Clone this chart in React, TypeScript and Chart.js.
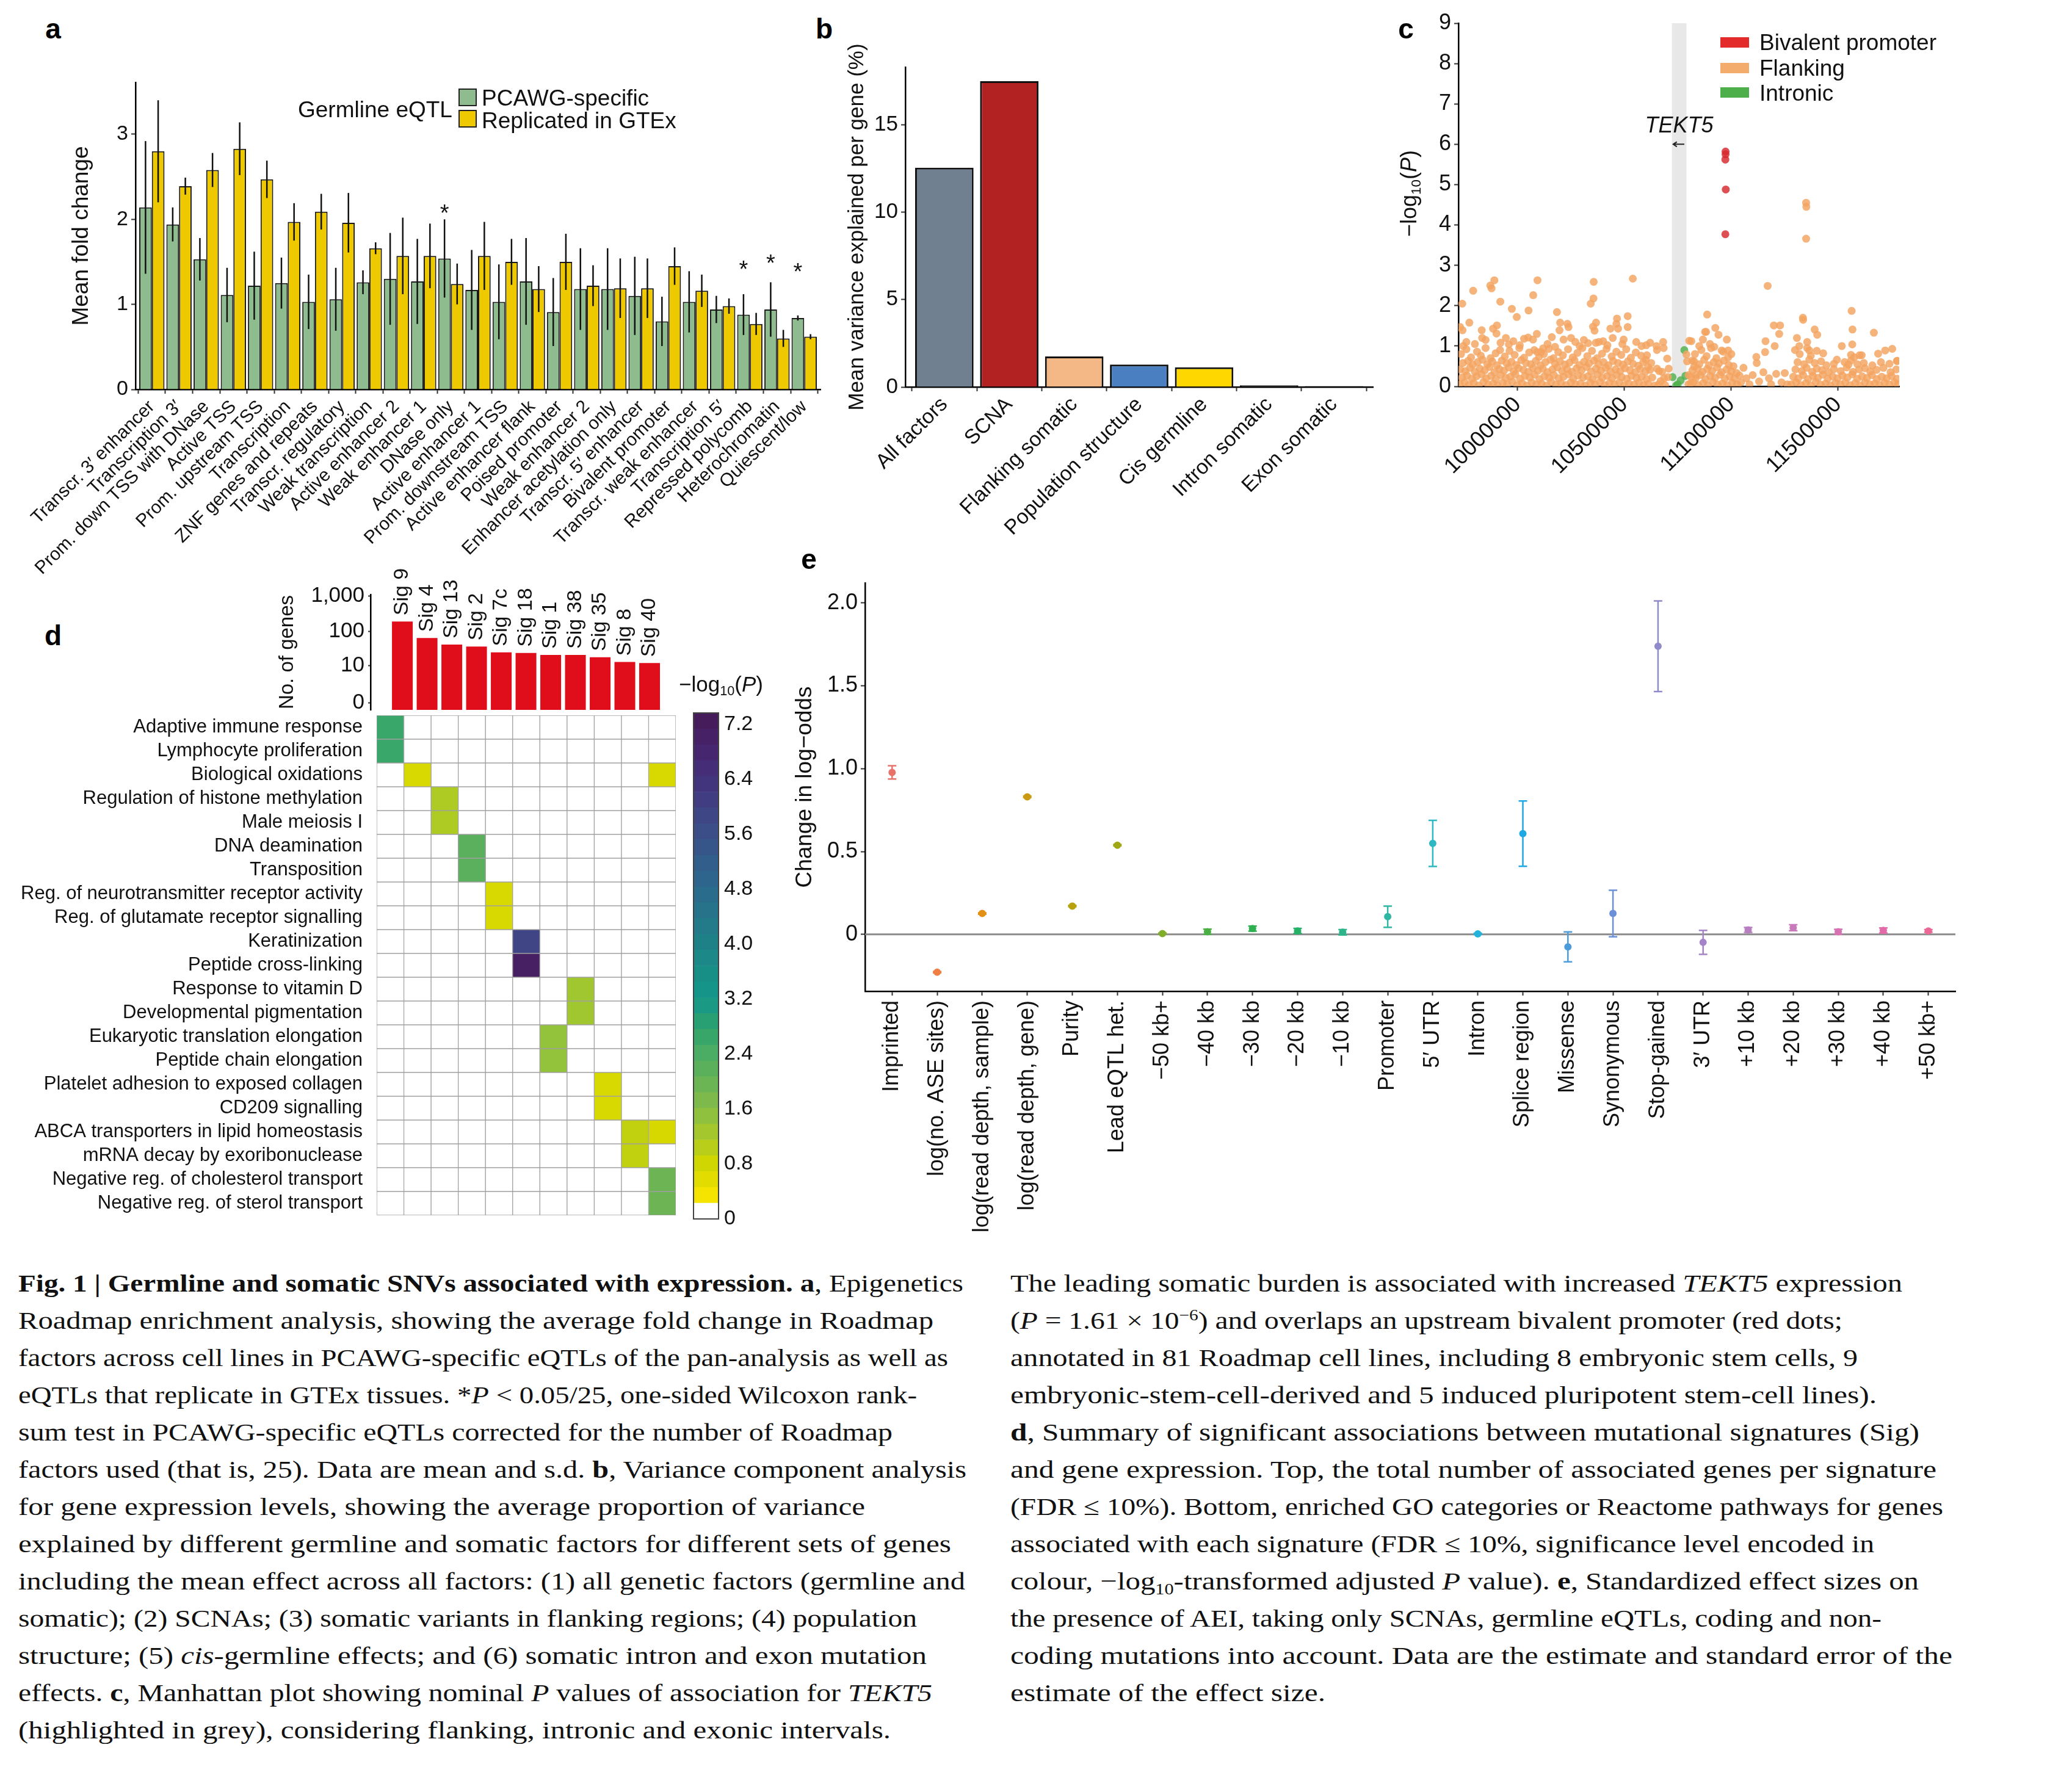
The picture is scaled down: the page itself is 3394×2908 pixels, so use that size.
import React, { useEffect, useLayoutEffect, useRef } from "react";
import { Chart, registerables } from "chart.js";

Chart.register(...registerables);

const SANS = "'Liberation Sans', Arial, Helvetica, sans-serif";
const SERIF = "'Liberation Serif', 'Times New Roman', serif";
const INK = "#111111";

// ---------------- Panel a data ----------------
const A_CATEGORIES = [
  "Transcr. 3\u2032 enhancer", "Transcription 3\u2032", "Prom. down TSS with DNase", "Active TSS",
  "Prom. upstream TSS", "Transcription", "ZNF genes and repeats", "Transcr. regulatory",
  "Weak transcription", "Active enhancer 2", "Weak enhancer 1", "DNase only", "Active enhancer 1",
  "Prom. downstream TSS", "Active enhancer flank", "Poised promoter", "Weak enhancer 2",
  "Enhancer acetylation only", "Transcr. 5\u2032 enhancer", "Bivalent promoter",
  "Transcr. weak enhancer", "Transcription 5\u2032", "Repressed polycomb", "Heterochromatin", "Quiescent/low",
];
const A_PCAWG = [2.14, 1.94, 1.53, 1.11, 1.22, 1.25, 1.03, 1.06, 1.26, 1.3, 1.27, 1.54, 1.17, 1.03, 1.27, 0.91, 1.18, 1.18, 1.1, 0.8, 1.03, 0.94, 0.88, 0.94, 0.84];
const A_PCAWG_SD = [0.78, 0.2, 0.25, 0.32, 0.4, 0.3, 0.32, 0.37, 0.14, 0.54, 0.5, 0.46, 0.47, 0.44, 0.51, 0.4, 0.48, 0.48, 0.46, 0.29, 0.36, 0.16, 0.24, 0.32, 0.03];
const A_GTEX = [2.8, 2.39, 2.58, 2.83, 2.47, 1.97, 2.09, 1.96, 1.66, 1.57, 1.57, 1.24, 1.57, 1.5, 1.18, 1.5, 1.22, 1.19, 1.19, 1.45, 1.16, 0.98, 0.77, 0.6, 0.62];
const A_GTEX_SD = [0.6, 0.1, 0.2, 0.31, 0.22, 0.22, 0.21, 0.35, 0.07, 0.45, 0.38, 0.24, 0.4, 0.27, 0.27, 0.33, 0.24, 0.35, 0.35, 0.22, 0.19, 0.09, 0.13, 0.1, 0.03];
const A_STARS: (number | null)[] = [null, null, null, null, null, null, null, null, null, null, null, 2.14, null, null, null, null, null, null, null, null, null, null, 1.48, 1.55, 1.45];
const A_Y_TICKS = [0, 1, 2, 3];

// ---------------- Panel b data ----------------
const B_CATEGORIES = ["All factors", "SCNA", "Flanking somatic", "Population structure", "Cis germline", "Intron somatic", "Exon somatic"];
const B_VALUES = [12.55, 17.5, 1.75, 1.28, 1.13, 0.1, 0.05];
const B_COLORS = ["#708090", "#B22222", "#F4B886", "#4A7FC1", "#FFD700", "#222222", "#222222"];
const B_Y_TICKS = [0, 5, 10, 15];

// ---------------- Panel c data (position in kb, -log10 P) ----------------
const C_TICK_POS_KB = [10000, 10500, 11000, 11500];
const C_TICK_LABELS = ["10000000", "10500000", "11100000", "11500000"];
const C_TEKT5_KB = [10722, 10790];
const C_BIVALENT: [number, number][] = [[10973, 5.82], [10973, 5.75], [10972, 5.62], [10974, 4.88], [10972, 3.77]];
const C_INTRONIC: [number, number][] = [[10725, 0.23], [10742, 0.02], [10749, 0.05], [10763, 0.15], [10780, 0.9], [10785, 0.26]];
const C_FLANK_LEFT: [number, number][] = [
  [9728, 0.05], [9752, 0.1], [9771, 0.03], [9795, 0.08], [9818, 0.02], [9840, 0.11], [9862, 0.04], [9885, 0.07], [9906, 0.02], [9930, 0.09], [9951, 0.05], [9975, 0.12], [9998, 0.03], [10021, 0.08], [10043, 0.02], [10066, 0.1], [10088, 0.05], [10112, 0.07], [10135, 0.02], [10157, 0.11], [10180, 0.04], [10203, 0.08], [10226, 0.03], [10249, 0.1], [10271, 0.05], [10294, 0.07], [10317, 0.02], [10340, 0.09], [10362, 0.04], [10385, 0.11], [10408, 0.03], [10430, 0.08], [10453, 0.05], [10476, 0.1], [10498, 0.02], [10521, 0.07], [10545, 0.04], [10568, 0.09], [10590, 0.03], [10612, 0.06], [10640, 0.02],
  [9740, 0.22], [9763, 0.27], [9786, 0.19], [9808, 0.25], [9831, 0.3], [9853, 0.2], [9876, 0.26], [9898, 0.18], [9921, 0.28], [9944, 0.21], [9966, 0.24], [9989, 0.3], [10011, 0.19], [10034, 0.26], [10057, 0.22], [10079, 0.29], [10102, 0.18], [10125, 0.25], [10147, 0.21], [10170, 0.28], [10192, 0.2], [10215, 0.24], [10238, 0.3], [10260, 0.19], [10283, 0.27], [10306, 0.22], [10328, 0.25], [10351, 0.18], [10374, 0.29], [10396, 0.21], [10419, 0.26], [10442, 0.2], [10464, 0.28], [10487, 0.23], [10510, 0.19], [10532, 0.26], [10556, 0.21], [10580, 0.24], [10603, 0.18], [10630, 0.22],
  [9731, 0.42], [9755, 0.38], [9777, 0.46], [9800, 0.36], [9823, 0.44], [9846, 0.4], [9868, 0.48], [9891, 0.35], [9914, 0.43], [9936, 0.39], [9959, 0.47], [9982, 0.37], [10004, 0.45], [10027, 0.41], [10050, 0.36], [10072, 0.46], [10095, 0.39], [10118, 0.44], [10140, 0.35], [10163, 0.42], [10186, 0.47], [10208, 0.38], [10231, 0.43], [10254, 0.36], [10276, 0.45], [10299, 0.4], [10322, 0.48], [10344, 0.37], [10367, 0.44], [10390, 0.39], [10412, 0.46], [10435, 0.36], [10458, 0.42], [10480, 0.38], [10503, 0.45], [10526, 0.4], [10550, 0.35], [10574, 0.43], [10598, 0.37], [10620, 0.41],
  [9744, 0.58], [9768, 0.63], [9790, 0.54], [9813, 0.6], [9836, 0.66], [9858, 0.55], [9881, 0.62], [9903, 0.52], [9926, 0.64], [9949, 0.57], [9971, 0.61], [9994, 0.53], [10017, 0.65], [10039, 0.58], [10062, 0.55], [10085, 0.63], [10107, 0.52], [10130, 0.6], [10153, 0.66], [10175, 0.56], [10198, 0.62], [10221, 0.54], [10243, 0.59], [10266, 0.65], [10289, 0.53], [10311, 0.61], [10334, 0.57], [10357, 0.64], [10379, 0.55], [10402, 0.6], [10425, 0.52], [10447, 0.63], [10470, 0.58], [10493, 0.54], [10516, 0.62], [10540, 0.56], [10565, 0.51], [10588, 0.6], [10610, 0.48],
  [9735, 0.8], [9760, 0.92], [9782, 0.72], [9810, 0.86], [9828, 0.76], [9850, 0.95], [9873, 0.7], [9897, 0.82], [9918, 0.9], [9940, 0.74], [9962, 0.88], [9986, 0.78], [10008, 0.95], [10030, 0.71], [10054, 0.84], [10078, 0.9], [10100, 0.73], [10123, 0.8], [10146, 0.93], [10168, 0.7], [10190, 0.85], [10212, 0.77], [10236, 0.92], [10258, 0.72], [10280, 0.83], [10303, 0.95], [10326, 0.75], [10348, 0.88], [10372, 0.7], [10395, 0.81], [10416, 0.93], [10440, 0.74], [10462, 0.86], [10485, 0.78], [10508, 0.92], [10530, 0.71], [10553, 0.84], [10578, 0.76], [10600, 0.66], [10625, 0.58],
  [9760, 1.1], [9800, 1.05], [9850, 1.15], [9920, 1.08], [9945, 1.2], [9980, 1.12], [10010, 1.02], [10030, 1.18], [10140, 1.05], [10160, 1.22], [10175, 0.98], [10270, 1.1], [10290, 1.0], [10310, 1.15], [10330, 1.07], [10400, 1.12], [10420, 1.02], [10445, 1.2], [10490, 1.05], [10555, 1.1], [10580, 1.0],
  [9731, 1.47], [9741, 2.05], [9742, 1.39], [9745, 1.0], [9774, 1.58], [9792, 2.37], [9832, 1.39], [9834, 1.2], [9872, 2.5], [9878, 2.43], [9891, 2.63], [9885, 1.43], [9903, 1.51], [9901, 1.31], [9919, 2.1], [9959, 1.04], [9973, 1.92], [9996, 1.72], [10051, 1.88], [10073, 2.26], [10093, 2.63], [10049, 1.21], [10072, 1.16], [10090, 1.3], [10092, 0.85], [10110, 0.85], [10119, 0.94], [10184, 1.84], [10196, 1.39], [10199, 1.58], [10215, 1.16], [10233, 1.55], [10238, 1.47], [10250, 1.2], [10342, 2.05], [10355, 2.18], [10356, 2.59], [10353, 1.48], [10367, 1.58], [10360, 1.38], [10366, 1.08], [10380, 1.1], [10434, 1.43], [10465, 1.68], [10470, 1.43], [10462, 1.55], [10515, 1.74], [10515, 1.47], [10496, 1.16], [10539, 2.67], [10602, 1.02], [10620, 1.08], [10605, 0.77],
];
const C_FLANK_MID: [number, number][] = [
  [10650, 1.0], [10652, 0.9], [10652, 0.44], [10662, 0.38], [10669, 0.13], [10676, 0.36], [10681, 1.1], [10683, 0.95], [10690, 0.03], [10700, 0.69], [10703, 0.23], [10707, 0.44], [10660, 0.05], [10685, 0.2],
  [10790, 0.79], [10793, 0.62], [10803, 1.13], [10817, 0.64], [10826, 0.49], [10836, 0.28], [10800, 0.28], [10810, 0.08],
  [10800, 0.05], [10822, 0.1], [10845, 0.03], [10868, 0.08], [10890, 0.02], [10913, 0.11], [10936, 0.04], [10958, 0.07], [10981, 0.02], [11004, 0.09], [11027, 0.05], [11045, 0.1],
  [10810, 0.24], [10833, 0.2], [10856, 0.28], [10879, 0.18], [10901, 0.26], [10924, 0.21], [10947, 0.29], [10970, 0.19], [10992, 0.25], [11015, 0.2], [11038, 0.27],
  [10818, 0.4], [10842, 0.45], [10865, 0.36], [10887, 0.43], [10910, 0.38], [10933, 0.47], [10955, 0.35], [10978, 0.42], [11000, 0.37], [11025, 0.33],
  [10826, 0.62], [10850, 0.55], [10873, 0.66], [10895, 0.52], [10918, 0.6], [10942, 0.57], [10965, 0.64], [10988, 0.53], [11010, 0.5],
  [10830, 0.8], [10860, 0.9], [10884, 0.75], [10905, 0.95], [10930, 0.7], [10962, 0.86], [10985, 0.72],
  [10887, 1.78], [10867, 1.16], [10877, 1.35], [10882, 1.35], [10925, 1.45], [10940, 1.28], [10979, 1.16], [10985, 0.89], [10955, 0.89], [10813, 1.12], [10850, 1.0], [10900, 1.05], [10920, 0.98], [11000, 0.8],
  [11057, 0.46], [11070, 0.2], [11085, 0.05], [11100, 0.28], [11117, 0.73], [11119, 0.58], [11130, 0.12], [11150, 0.35], [11160, 1.12], [11170, 2.49], [11176, 0.2], [11186, 0.05], [11199, 1.51], [11203, 1.0], [11210, 0.31], [11224, 1.3], [11228, 1.51], [11235, 0.1], [11250, 0.33], [11262, 0.05], [11158, 0.85],
];
const C_FLANK_RIGHT: [number, number][] = [
  [11280, 0.05], [11303, 0.1], [11326, 0.03], [11349, 0.08], [11372, 0.02], [11395, 0.11], [11418, 0.04], [11441, 0.07], [11464, 0.02], [11487, 0.09], [11510, 0.05], [11533, 0.1], [11556, 0.03], [11579, 0.08], [11602, 0.02], [11625, 0.1], [11648, 0.05], [11671, 0.07], [11694, 0.03], [11717, 0.09], [11740, 0.04], [11763, 0.1], [11780, 0.05],
  [11290, 0.24], [11313, 0.2], [11336, 0.28], [11359, 0.18], [11382, 0.26], [11405, 0.21], [11428, 0.29], [11451, 0.19], [11474, 0.25], [11497, 0.2], [11520, 0.27], [11543, 0.22], [11566, 0.3], [11589, 0.19], [11612, 0.25], [11635, 0.21], [11658, 0.28], [11681, 0.18], [11704, 0.24], [11727, 0.2], [11750, 0.26], [11775, 0.19],
  [11300, 0.42], [11330, 0.38], [11352, 0.46], [11378, 0.36], [11400, 0.44], [11425, 0.4], [11455, 0.35], [11480, 0.43], [11512, 0.38], [11540, 0.47], [11570, 0.36], [11598, 0.42], [11625, 0.45], [11650, 0.37], [11680, 0.41], [11712, 0.46], [11745, 0.35], [11772, 0.42],
  [11310, 0.6], [11340, 0.55], [11365, 0.66], [11390, 0.58], [11420, 0.62], [11445, 0.52], [11480, 0.56], [11530, 0.6], [11560, 0.64], [11590, 0.55], [11620, 0.58], [11660, 0.52], [11700, 0.6], [11740, 0.56], [11776, 0.63],
  [11298, 0.9], [11320, 0.8], [11355, 0.95], [11372, 0.76], [11400, 0.88], [11430, 0.82], [11560, 0.78], [11575, 0.72], [11610, 0.77], [11687, 0.81], [11720, 0.89], [11753, 0.93],
  [11307, 1.2], [11335, 1.7], [11336, 1.65], [11318, 1.0], [11355, 1.1], [11390, 1.41], [11402, 1.28], [11365, 0.89], [11494, 0.66], [11517, 1.0], [11563, 1.87], [11567, 1.41], [11566, 1.04], [11548, 0.54], [11600, 0.77], [11667, 1.33], [11775, 0.63],
  [11350, 4.55], [11351, 4.45], [11350, 3.66],
];

// ---------------- Panel d data ----------------
const D_SIGNATURES = ["Sig 9", "Sig 4", "Sig 13", "Sig 2", "Sig 7c", "Sig 18", "Sig 1", "Sig 38", "Sig 35", "Sig 8", "Sig 40"];
const D_GENE_COUNTS = [190, 65, 42, 37, 25, 24, 21, 21, 18, 13, 12];
const D_COUNT_TICKS = [0, 10, 100, 1000];
const D_PATHWAYS = [
  "Adaptive immune response", "Lymphocyte proliferation", "Biological oxidations",
  "Regulation of histone methylation", "Male meiosis I", "DNA deamination", "Transposition",
  "Reg. of neurotransmitter receptor activity", "Reg. of glutamate receptor signalling",
  "Keratinization", "Peptide cross-linking", "Response to vitamin D", "Developmental pigmentation",
  "Eukaryotic translation elongation", "Peptide chain elongation", "Platelet adhesion to exposed collagen",
  "CD209 signalling", "ABCA transporters in lipid homeostasis", "mRNA decay by exoribonuclease",
  "Negative reg. of cholesterol transport", "Negative reg. of sterol transport",
];
// [row (pathway), column (signature), -log10 P]
const D_CELLS: [number, number, number][] = [
  [0, 0, 2.65], [1, 0, 2.65], [2, 1, 0.7], [2, 10, 0.7], [3, 2, 1.15], [4, 2, 1.15], [5, 3, 2.2], [6, 3, 2.2],
  [7, 4, 0.7], [8, 4, 0.7], [9, 5, 5.9], [10, 5, 7.1], [11, 7, 1.3], [12, 7, 1.3], [13, 6, 1.45], [14, 6, 1.45],
  [15, 8, 0.7], [16, 8, 0.7], [17, 9, 0.95], [17, 10, 0.72], [18, 9, 0.95], [19, 10, 1.95], [20, 10, 1.95],
];
const D_SCALE_TICKS = [0, 0.8, 1.6, 2.4, 3.2, 4.0, 4.8, 5.6, 6.4, 7.2];

// ---------------- Panel e data ----------------
const E_TERMS = [
  "Imprinted", "log(no. ASE sites)", "log(read depth, sample)", "log(read depth, gene)", "Purity",
  "Lead eQTL het.", "\u221250 kb+", "\u221240 kb", "\u221230 kb", "\u221220 kb", "\u221210 kb", "Promoter",
  "5\u2032 UTR", "Intron", "Splice region", "Missense", "Synonymous", "Stop-gained", "3\u2032 UTR",
  "+10 kb", "+20 kb", "+30 kb", "+40 kb", "+50 kb+",
];
const E_ESTIMATES = [0.977, -0.228, 0.126, 0.83, 0.171, 0.538, 0.005, 0.016, 0.035, 0.021, 0.013, 0.107, 0.549, 0.003, 0.608, -0.075, 0.126, 1.738, -0.048, 0.027, 0.04, 0.016, 0.024, 0.021];
const E_SE = [0.04, 0.004, 0.004, 0.004, 0.004, 0.004, 0.004, 0.016, 0.015, 0.015, 0.016, 0.064, 0.139, 0.004, 0.197, 0.09, 0.14, 0.273, 0.072, 0.015, 0.018, 0.015, 0.015, 0.008];
const E_Y_TICKS = [0, 0.5, 1.0, 1.5, 2.0];

// ---------------- styles ----------------
const E_COLORS = ["#E8736B", "#F07F43", "#E39016", "#C99A12", "#B8A10E", "#9FA715", "#80AD2A", "#4AB045", "#2DB04F", "#25B268", "#2DB48A", "#2EB8A3", "#2DB8C2", "#25B2DA", "#1EA8E3", "#4C9CDC", "#6B90D8", "#8F8BCB", "#A584C8", "#B87EC1", "#C97ABA", "#D672B2", "#E26AA8", "#EB6896"];
const HEAT_STOPS: [number, string][] = [
  [0.23, "#FFE600"], [0.8, "#D0D600"], [1.2, "#A9C928"], [1.6, "#86BD46"], [2.0, "#69B456"], [2.4, "#4CAC62"],
  [2.8, "#2DA26E"], [3.2, "#14988A"], [3.6, "#188E86"], [4.0, "#1F8288"], [4.4, "#25768A"], [4.8, "#2B6A8C"],
  [5.2, "#325D8B"], [5.6, "#3A5088"], [6.0, "#404184"], [6.4, "#44337C"], [6.8, "#472670"], [7.2, "#471D5E"], [7.4, "#441850"],
];
const CB_MAX = 7.37;
const CB_BINS = 32;

function hexToRgb(h: string) {
  const n = parseInt(h.slice(1), 16);
  return [(n >> 16) & 255, (n >> 8) & 255, n & 255];
}
function heatColor(v: number) {
  if (v < HEAT_STOPS[0][0]) return "#FFFFFF";
  for (let i = 1; i < HEAT_STOPS.length; i++) {
    const [v1, c1] = HEAT_STOPS[i];
    const [v0, c0] = HEAT_STOPS[i - 1];
    if (v <= v1) {
      const t = (v - v0) / (v1 - v0);
      const a = hexToRgb(c0), b = hexToRgb(c1);
      const m = a.map((x, k) => Math.round(x + (b[k] - x) * t));
      return `rgb(${m[0]},${m[1]},${m[2]})`;
    }
  }
  return HEAT_STOPS[HEAT_STOPS.length - 1][1];
}
function cellValue(r: number, c: number) {
  const hit = D_CELLS.find((d) => d[0] === r && d[1] === c);
  return hit ? hit[2] : 0;
}

// ---------------- chart helpers ----------------
const lockY = (w: number) => (s: any) => {
  s.width = w; s.paddingTop = 0; s.paddingBottom = 0; s.paddingLeft = 0; s.paddingRight = 0;
};
const lockX = (h: number) => (s: any) => {
  s.height = h; s.paddingTop = 0; s.paddingBottom = 0; s.paddingLeft = 0; s.paddingRight = 0;
};
const setTicks = (vals: number[]) => (s: any) => {
  s.ticks = vals.map((v) => ({ value: v }));
};
const indices = (n: number) => Array.from({ length: n }, (_, i) => i);
const gridStyle = (len = 7) => ({ drawOnChartArea: false, drawTicks: true, tickLength: len, tickWidth: 2, tickColor: "#333333" });
const axisBorder = { display: true, color: "#000000", width: 2.5 };
const basePlugins = { legend: { display: false }, tooltip: { enabled: false } };

const errorBarsPlugin = {
  id: "errorBars",
  afterDatasetsDraw(chart: any) {
    const ctx = chart.ctx;
    chart.data.datasets.forEach((ds: any, di: number) => {
      if (!ds.errorLow) return;
      const meta = chart.getDatasetMeta(di);
      const ys = chart.scales[meta.yAxisID];
      ctx.save();
      ctx.lineWidth = ds.errorWidth || 2.5;
      meta.data.forEach((el: any, i: number) => {
        const lo = ds.errorLow[i], hi = ds.errorHigh[i];
        if (lo == null || hi == null) return;
        const x = el.x;
        const y1 = ys.getPixelForValue(lo), y2 = ys.getPixelForValue(hi);
        ctx.strokeStyle = Array.isArray(ds.errorColor) ? ds.errorColor[i] : ds.errorColor || INK;
        ctx.beginPath();
        ctx.moveTo(x, y1); ctx.lineTo(x, y2);
        const cap = ds.errorCap || 0;
        if (cap) {
          ctx.moveTo(x - cap, y1); ctx.lineTo(x + cap, y1);
          ctx.moveTo(x - cap, y2); ctx.lineTo(x + cap, y2);
        }
        ctx.stroke();
      });
      ctx.restore();
    });
  },
};

const starsPlugin = {
  id: "stars",
  afterDatasetsDraw(chart: any) {
    const ctx = chart.ctx;
    const meta = chart.getDatasetMeta(0);
    const ys = chart.scales.y;
    ctx.save();
    ctx.font = `38px ${SANS}`;
    ctx.fillStyle = INK;
    ctx.textAlign = "center";
    ctx.textBaseline = "alphabetic";
    A_STARS.forEach((v, i) => {
      if (v == null) return;
      ctx.fillText("*", meta.data[i].x, ys.getPixelForValue(v) + 22);
    });
    ctx.restore();
  },
};

const sigLabelsPlugin = {
  id: "sigLabels",
  afterDatasetsDraw(chart: any) {
    const ctx = chart.ctx;
    const meta = chart.getDatasetMeta(0);
    ctx.save();
    ctx.font = `34px ${SANS}`;
    ctx.fillStyle = INK;
    ctx.textAlign = "left";
    ctx.textBaseline = "middle";
    meta.data.forEach((el: any, i: number) => {
      ctx.save();
      ctx.translate(el.x, el.y - 10);
      ctx.rotate(-Math.PI / 2);
      ctx.fillText(D_SIGNATURES[i], 0, 0);
      ctx.restore();
    });
    ctx.restore();
  },
};

const tektPlugin = {
  id: "tekt5",
  beforeDatasetsDraw(chart: any) {
    const { ctx, chartArea, scales } = chart;
    const x0 = scales.x.getPixelForValue(C_TEKT5_KB[0]);
    const x1 = scales.x.getPixelForValue(C_TEKT5_KB[1]);
    ctx.save();
    ctx.fillStyle = "#E8E8E8";
    ctx.fillRect(x0, chartArea.top, x1 - x0, chartArea.bottom - chartArea.top);
    ctx.restore();
  },
  afterDatasetsDraw(chart: any) {
    const { ctx, scales } = chart;
    const xm = scales.x.getPixelForValue((C_TEKT5_KB[0] + C_TEKT5_KB[1]) / 2);
    ctx.save();
    ctx.font = `italic 36px ${SANS}`;
    ctx.fillStyle = INK;
    ctx.textAlign = "center";
    ctx.textBaseline = "middle";
    ctx.fillText("TEKT5", xm, scales.y.getPixelForValue(6.44));
    const ya = scales.y.getPixelForValue(6.0);
    const xa = scales.x.getPixelForValue(10728), xb = scales.x.getPixelForValue(10780);
    ctx.strokeStyle = "#222";
    ctx.lineWidth = 2;
    ctx.beginPath();
    ctx.moveTo(xb, ya); ctx.lineTo(xa, ya);
    ctx.moveTo(xa + 6, ya - 4); ctx.lineTo(xa, ya); ctx.lineTo(xa + 6, ya + 4);
    ctx.stroke();
    ctx.restore();
  },
};

const outlinePlugin = {
  id: "outline",
  afterDatasetsDraw(chart: any) {
    const { ctx, chartArea } = chart;
    ctx.save();
    ctx.strokeStyle = "#444444";
    ctx.lineWidth = 2;
    ctx.strokeRect(chartArea.left, chartArea.top, chartArea.right - chartArea.left, chartArea.bottom - chartArea.top);
    ctx.restore();
  },
};

// ---------------- configs ----------------
const tickFont = (size: number) => ({ family: SANS, size });

function configA(): any {
  return {
    type: "bar",
    data: {
      datasets: [
        {
          label: "PCAWG-specific",
          data: A_PCAWG.map((v, i) => ({ x: i, y: v })),
          backgroundColor: "#8FBC8F", borderColor: "#1A1A1A", borderWidth: 2,
          errorLow: A_PCAWG.map((v, i) => v - A_PCAWG_SD[i]),
          errorHigh: A_PCAWG.map((v, i) => v + A_PCAWG_SD[i]),
          errorColor: "#111111", errorWidth: 2.5,
        },
        {
          label: "Replicated in GTEx",
          data: A_GTEX.map((v, i) => ({ x: i, y: v })),
          backgroundColor: "#EEC900", borderColor: "#1A1A1A", borderWidth: 2,
          errorLow: A_GTEX.map((v, i) => v - A_GTEX_SD[i]),
          errorHigh: A_GTEX.map((v, i) => v + A_GTEX_SD[i]),
          errorColor: "#111111", errorWidth: 2.5,
        },
      ],
    },
    options: {
      responsive: false, animation: false,
      layout: { padding: { left: 0, top: 35, right: 36, bottom: 0 }, autoPadding: false },
      plugins: basePlugins,
      datasets: { bar: { categoryPercentage: 0.93, barPercentage: 1 } },
      scales: {
        x: {
          type: "linear", min: -0.6, max: A_CATEGORIES.length - 0.4, offset: false,
          afterBuildTicks: setTicks(indices(A_CATEGORIES.length)), afterFit: lockX(322),
          ticks: { callback: (v: number) => A_CATEGORIES[v], autoSkip: false, minRotation: 45, maxRotation: 45, font: tickFont(30), color: INK, padding: 4 },
          grid: gridStyle(), border: axisBorder,
        },
        y: {
          min: 0, max: 3.61,
          afterBuildTicks: setTicks(A_Y_TICKS), afterFit: lockY(182),
          ticks: { font: tickFont(34), color: INK, padding: 5 },
          title: { display: true, text: "Mean fold change", font: tickFont(37), color: INK, padding: { top: 72, bottom: 0 } },
          grid: gridStyle(), border: axisBorder,
        },
      },
    },
    plugins: [errorBarsPlugin, starsPlugin],
  };
}

function configB(): any {
  return {
    type: "bar",
    data: {
      datasets: [{
        data: B_VALUES.map((v, i) => ({ x: i, y: v })),
        backgroundColor: B_COLORS, borderColor: "#111111", borderWidth: 3,
      }],
    },
    options: {
      responsive: false, animation: false,
      layout: { padding: { left: 0, top: 110, right: 31, bottom: 0 }, autoPadding: false },
      plugins: basePlugins,
      datasets: { bar: { categoryPercentage: 1, barPercentage: 0.9 } },
      scales: {
        x: {
          type: "linear", min: -0.6, max: B_CATEGORIES.length - 0.4, offset: false,
          afterBuildTicks: setTicks(indices(B_CATEGORIES.length)), afterFit: lockX(326),
          ticks: { callback: (v: number) => B_CATEGORIES[v], autoSkip: false, minRotation: 45, maxRotation: 45, font: tickFont(34), color: INK, padding: 2 },
          grid: gridStyle(), border: axisBorder,
        },
        y: {
          min: 0, max: 18.3,
          afterBuildTicks: setTicks(B_Y_TICKS), afterFit: lockY(103),
          ticks: { font: tickFont(35), color: INK, padding: 5 },
          title: { display: true, text: "Mean variance explained per gene (%)", font: tickFont(35), color: INK, padding: { top: 3, bottom: 0 } },
          grid: gridStyle(), border: axisBorder,
        },
      },
    },
    plugins: [],
  };
}

function configC(): any {
  const pts = (arr: [number, number][]) => arr.map(([x, y]) => ({ x, y }));
  return {
    type: "scatter",
    data: {
      datasets: [
        { label: "Flanking", data: pts([...C_FLANK_LEFT, ...C_FLANK_MID, ...C_FLANK_RIGHT]), pointRadius: 6.5, pointBorderWidth: 0, pointBackgroundColor: "rgba(244,164,96,0.82)", clip: 0 },
        { label: "Intronic", data: pts(C_INTRONIC), pointRadius: 6.5, pointBorderWidth: 0, pointBackgroundColor: "rgba(77,175,74,0.8)", clip: 0 },
        { label: "Bivalent promoter", data: pts(C_BIVALENT), pointRadius: 6.5, pointBorderWidth: 0, pointBackgroundColor: "rgba(215,40,45,0.82)", clip: 0 },
      ],
    },
    options: {
      responsive: false, animation: false,
      layout: { padding: { left: 0, top: 28, right: 59, bottom: 0 }, autoPadding: false },
      plugins: basePlugins,
      scales: {
        x: {
          type: "linear", min: 9723.1, max: 11785.7,
          afterBuildTicks: setTicks(C_TICK_POS_KB), afterFit: lockX(177),
          ticks: { callback: (_v: number, i: number) => C_TICK_LABELS[i], autoSkip: false, minRotation: 45, maxRotation: 45, font: tickFont(36), color: INK, padding: 2 },
          grid: gridStyle(), border: axisBorder,
        },
        y: {
          min: 0, max: 9,
          afterBuildTicks: setTicks(indices(10)), afterFit: lockY(119),
          ticks: { font: tickFont(36), color: INK, padding: 5 },
          grid: gridStyle(), border: axisBorder,
        },
      },
    },
    plugins: [tektPlugin],
  };
}

function configDBars(): any {
  return {
    type: "bar",
    data: {
      datasets: [{
        data: D_GENE_COUNTS.map((n, i) => ({ x: i, y: Math.log10(n + 1) })),
        backgroundColor: "#E00E1B", borderWidth: 0, base: -0.2,
      }],
    },
    options: {
      responsive: false, animation: false,
      layout: { padding: { left: 0, top: 74, right: 33, bottom: 17 }, autoPadding: false },
      plugins: basePlugins,
      datasets: { bar: { categoryPercentage: 1, barPercentage: 0.84 } },
      scales: {
        x: { type: "linear", min: -0.725, max: 10.5, display: false, afterBuildTicks: setTicks(indices(D_SIGNATURES.length)) },
        y: {
          min: -0.2, max: 3.04,
          afterBuildTicks: setTicks(D_COUNT_TICKS.map((n) => Math.log10(n + 1))), afterFit: lockY(207),
          ticks: { callback: (_v: number, i: number) => D_COUNT_TICKS[i].toLocaleString("en-US"), font: tickFont(35), color: INK, padding: 6 },
          title: { display: true, text: "No. of genes", font: tickFont(33), color: INK, padding: { top: 51, bottom: 0 } },
          grid: gridStyle(4), border: axisBorder,
        },
      },
    },
    plugins: [sigLabelsPlugin],
  };
}

function configHeat(): any {
  return {
    type: "bar",
    data: {
      labels: D_PATHWAYS,
      datasets: D_SIGNATURES.map((sig, c) => ({
        label: sig,
        data: D_PATHWAYS.map(() => 1),
        backgroundColor: D_PATHWAYS.map((_, r) => heatColor(cellValue(r, c))),
        borderColor: "#A0A0A0", borderWidth: 1, borderSkipped: false,
      })),
    },
    options: {
      indexAxis: "y",
      responsive: false, animation: false,
      layout: { padding: { left: 0, top: 22, right: 13, bottom: 19 }, autoPadding: false },
      plugins: basePlugins,
      datasets: { bar: { categoryPercentage: 1, barPercentage: 1 } },
      scales: {
        x: { stacked: true, min: 0, max: D_SIGNATURES.length, display: false },
        y: {
          stacked: true, afterFit: lockY(617),
          ticks: { font: tickFont(31), color: INK, padding: 23, autoSkip: false },
          grid: { display: false, drawTicks: false }, border: { display: false },
        },
      },
    },
    plugins: [],
  };
}

function configColorbar(): any {
  const step = CB_MAX / CB_BINS;
  return {
    type: "bar",
    data: {
      labels: [""],
      datasets: indices(CB_BINS).map((k) => ({
        data: [step], backgroundColor: heatColor((k + 0.5) * step), borderWidth: 0,
      })),
    },
    options: {
      responsive: false, animation: false,
      layout: { padding: { left: 16, top: 18, right: 0, bottom: 23 }, autoPadding: false },
      plugins: basePlugins,
      datasets: { bar: { categoryPercentage: 1, barPercentage: 1 } },
      scales: {
        x: { stacked: true, display: false },
        y: {
          stacked: true, position: "right", min: 0, max: CB_MAX,
          afterBuildTicks: setTicks(D_SCALE_TICKS), afterFit: lockY(113),
          ticks: { callback: (v: number) => (v === 0 ? "0" : v.toFixed(1)), font: tickFont(34), color: INK, padding: 9 },
          grid: { display: true, drawOnChartArea: false, drawTicks: false }, border: { display: false },
        },
      },
    },
    plugins: [outlinePlugin],
  };
}

function configE(): any {
  const n = E_TERMS.length;
  return {
    type: "scatter",
    data: {
      datasets: [
        { type: "line", data: [{ x: -0.6, y: 0 }, { x: n - 0.4, y: 0 }], borderColor: "#8C8C8C", borderWidth: 3, pointRadius: 0, order: 2 },
        {
          type: "scatter", order: 1,
          data: E_ESTIMATES.map((v, i) => ({ x: i, y: v })),
          pointRadius: 6, pointBorderWidth: 0, pointBackgroundColor: E_COLORS,
          errorLow: E_ESTIMATES.map((v, i) => v - E_SE[i]),
          errorHigh: E_ESTIMATES.map((v, i) => v + E_SE[i]),
          errorColor: E_COLORS, errorCap: 7, errorWidth: 2.5,
        },
      ],
    },
    options: {
      responsive: false, animation: false,
      layout: { padding: { left: 0, top: 55, right: 37, bottom: 0 }, autoPadding: false },
      plugins: basePlugins,
      scales: {
        x: {
          type: "linear", min: -0.6, max: n - 0.4,
          afterBuildTicks: setTicks(indices(n)), afterFit: lockX(416),
          ticks: { callback: (v: number) => E_TERMS[v], autoSkip: false, minRotation: 90, maxRotation: 90, font: tickFont(36), color: INK, padding: 8 },
          grid: gridStyle(), border: axisBorder,
        },
        y: {
          min: -0.343, max: 2.12,
          afterBuildTicks: setTicks(E_Y_TICKS), afterFit: lockY(137),
          ticks: { callback: (v: number) => (v === 0 ? "0" : v.toFixed(1)), font: tickFont(36), color: INK, padding: 5 },
          title: { display: true, text: "Change in log\u2212odds", font: tickFont(37), color: INK, padding: { top: 17, bottom: 0 } },
          grid: gridStyle(), border: axisBorder,
        },
      },
    },
    plugins: [errorBarsPlugin],
  };
}

// ---------------- components ----------------
function ChartCanvas({ left, top, width, height, make }: any) {
  const ref = useRef<HTMLCanvasElement>(null);
  useEffect(() => {
    const chart = new Chart(ref.current as HTMLCanvasElement, make());
    return () => chart.destroy();
  }, []);
  return <canvas ref={ref} width={width} height={height} style={{ position: "absolute", left, top, width, height }} />;
}

function Abs({ x, y, children, style }: any) {
  return <div style={{ position: "absolute", left: x, top: y, whiteSpace: "nowrap", ...style }}>{children}</div>;
}

function PanelLetter({ x, y, t }: any) {
  return (
    <div style={{ position: "absolute", left: x, top: y, transform: "translate(-50%,-50%)", font: `bold 46px ${SANS}`, lineHeight: 1, color: "#000" }}>{t}</div>
  );
}

function CaptionLine({ x, cy, right, children }: any) {
  const ref = useRef<HTMLSpanElement>(null);
  useLayoutEffect(() => {
    const el = ref.current;
    if (!el) return;
    el.style.transform = "none";
    const w = el.getBoundingClientRect().width;
    if (w > 0) el.style.transform = `scaleX(${(right - x) / w})`;
  }, [x, right]);
  return (
    <span ref={ref} style={{ position: "absolute", left: x, top: cy - 25, whiteSpace: "pre", fontFamily: SERIF, fontSize: 41, lineHeight: "50px", transformOrigin: "0 0", color: "#111" }}>
      {children}
    </span>
  );
}

const sub = (t: string) => <sub style={{ fontSize: "62%", verticalAlign: "-0.3em", lineHeight: 0 }}>{t}</sub>;
const sup = (t: string) => <sup style={{ fontSize: "62%", verticalAlign: "0.55em", lineHeight: 0 }}>{t}</sup>;

const CAPTION_LEFT: [any, number][] = [
  [<><b>Fig. 1 | Germline and somatic SNVs associated with expression.</b> <b>a</b>, Epigenetics</>, 1578],
  [<>Roadmap enrichment analysis, showing the average fold change in Roadmap</>, 1529],
  [<>factors across cell lines in PCAWG-specific eQTLs of the pan-analysis as well as</>, 1553],
  [<>eQTLs that replicate in GTEx tissues. *<i>P</i> &lt; 0.05/25, one-sided Wilcoxon rank-</>, 1502],
  [<>sum test in PCAWG-specific eQTLs corrected for the number of Roadmap</>, 1462],
  [<>factors used (that is, 25). Data are mean and s.d. <b>b</b>, Variance component analysis</>, 1583],
  [<>for gene expression levels, showing the average proportion of variance</>, 1417],
  [<>explained by different germline and somatic factors for different sets of genes</>, 1558],
  [<>including the mean effect across all factors: (1) all genetic factors (germline and</>, 1581],
  [<>somatic); (2) SCNAs; (3) somatic variants in flanking regions; (4) population</>, 1502],
  [<>structure; (5) <i>cis</i>-germline effects; and (6) somatic intron and exon mutation</>, 1518],
  [<>effects. <b>c</b>, Manhattan plot showing nominal <i>P</i> values of association for <i>TEKT5</i></>, 1527],
  [<>(highlighted in grey), considering flanking, intronic and exonic intervals.</>, 1459],
];
const CAPTION_RIGHT: [any, number][] = [
  [<>The leading somatic burden is associated with increased <i>TEKT5</i> expression</>, 3116],
  [<>(<i>P</i> = 1.61 × 10{sup("\u22126")}) and overlaps an upstream bivalent promoter (red dots;</>, 3018],
  [<>annotated in 81 Roadmap cell lines, including 8 embryonic stem cells, 9</>, 3043],
  [<>embryonic-stem-cell-derived and 5 induced pluripotent stem-cell lines).</>, 3074],
  [<><b>d</b>, Summary of significant associations between mutational signatures (Sig)</>, 3144],
  [<>and gene expression. Top, the total number of associated genes per signature</>, 3172],
  [<>(FDR ≤ 10%). Bottom, enriched GO categories or Reactome pathways for genes</>, 3183],
  [<>associated with each signature (FDR ≤ 10%, significance level encoded in</>, 3070],
  [<>colour, −log{sub("10")}-transformed adjusted <i>P</i> value). <b>e</b>, Standardized effect sizes on</>, 3143],
  [<>the presence of AEI, taking only SCNAs, germline eQTLs, coding and non-</>, 3082],
  [<>coding mutations into account. Data are the estimate and standard error of the</>, 3198],
  [<>estimate of the effect size.</>, 2171],
];

export default function App() {
  useEffect(() => {
    document.body.style.margin = "0";
    document.body.style.background = "#ffffff";
  }, []);
  const legendText = { font: `37px ${SANS}`, color: INK, lineHeight: 1 };
  return (
    <div style={{ position: "relative", width: 3394, height: 2908, background: "#ffffff", overflow: "hidden" }}>
      <ChartCanvas left={40} top={100} width={1340} height={860} make={configA} />
      <ChartCanvas left={1380} top={0} width={900} height={960} make={configB} />
      <ChartCanvas left={2270} top={10} width={900} height={800} make={configC} />
      <ChartCanvas left={400} top={900} width={740} height={280} make={configDBars} />
      <ChartCanvas left={0} top={1150} width={1120} height={860} make={configHeat} />
      <ChartCanvas left={1120} top={1150} width={170} height={870} make={configColorbar} />
      <ChartCanvas left={1280} top={900} width={1960} height={1140} make={configE} />

      <PanelLetter x={87} y={47} t="a" />
      <PanelLetter x={1350} y={47} t="b" />
      <PanelLetter x={2303} y={47} t="c" />
      <PanelLetter x={87} y={1041} t="d" />
      <PanelLetter x={1325} y={916} t="e" />

      {/* legend a */}
      <Abs x={488} y={179} style={{ ...legendText, transform: "translateY(-50%)" }}>Germline eQTL</Abs>
      <div style={{ position: "absolute", left: 751, top: 145, width: 30, height: 29, background: "#8FBC8F", border: "2px solid #222", boxSizing: "border-box" }} />
      <div style={{ position: "absolute", left: 751, top: 180, width: 30, height: 29, background: "#EEC900", border: "2px solid #222", boxSizing: "border-box" }} />
      <Abs x={789} y={160} style={{ ...legendText, transform: "translateY(-50%)" }}>PCAWG-specific</Abs>
      <Abs x={789} y={197} style={{ ...legendText, transform: "translateY(-50%)" }}>Replicated in GTEx</Abs>

      {/* legend c */}
      <div style={{ position: "absolute", left: 2818, top: 61, width: 47, height: 17, background: "#E32B2B" }} />
      <div style={{ position: "absolute", left: 2818, top: 103, width: 47, height: 17, background: "#F4AC6C" }} />
      <div style={{ position: "absolute", left: 2818, top: 143, width: 47, height: 17, background: "#4DAF4A" }} />
      <Abs x={2882} y={69} style={{ ...legendText, transform: "translateY(-50%)" }}>Bivalent promoter</Abs>
      <Abs x={2882} y={111} style={{ ...legendText, transform: "translateY(-50%)" }}>Flanking</Abs>
      <Abs x={2882} y={152} style={{ ...legendText, transform: "translateY(-50%)" }}>Intronic</Abs>

      {/* y title c */}
      <div style={{ position: "absolute", left: 2308, top: 317, transform: "translate(-50%,-50%) rotate(-90deg)", whiteSpace: "nowrap", font: `36px ${SANS}`, color: INK, lineHeight: 1 }}>
        −log{sub("10")}(<i>P</i>)
      </div>
      {/* colour bar title */}
      <Abs x={1112} y={1120} style={{ font: `35px ${SANS}`, color: INK, transform: "translateY(-50%)", lineHeight: 1 }}>
        −log{sub("10")}(<i>P</i>)
      </Abs>

      {CAPTION_LEFT.map(([content, right], i) => (
        <CaptionLine key={"l" + i} x={30} cy={2102 + 61 * i} right={right}>{content}</CaptionLine>
      ))}
      {CAPTION_RIGHT.map(([content, right], i) => (
        <CaptionLine key={"r" + i} x={1655} cy={2102 + 61 * i} right={right}>{content}</CaptionLine>
      ))}
    </div>
  );
}
